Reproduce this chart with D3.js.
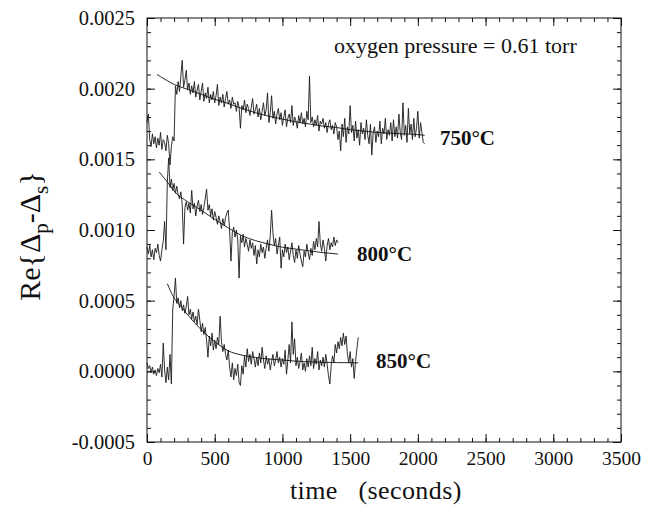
<!DOCTYPE html>
<html>
<head>
<meta charset="utf-8">
<script src="https://cdn.jsdelivr.net/npm/d3@7"></script>
<style>
body { margin: 0; background: #fff; }
text { font-family: 'Liberation Serif', 'Times New Roman', serif; fill: #111; }
</style>
</head>
<body>
<svg id="chart" width="656" height="514"></svg>
<script>
'use strict';

// values are in units of 1e-4, sampled every 10 s from t = 0
const unit = 1e-4;
const sample_step = 10;

const trace_750 = [
    17.6, 18.2, 16.4, 15.9, 16.8, 16.1, 16.6, 15.8, 16.5, 16.0,
    16.9, 15.7, 16.4, 16.2, 15.6, 16.7, 16.1, 14.6, 15.9, 16.6, 16.3,
    20.2, 19.6, 20.5, 19.8, 20.9, 22.0, 20.1, 20.6, 21.3, 19.9,
    20.4, 19.6, 20.2, 19.7, 20.5, 19.4, 19.9, 20.3, 19.2, 19.8,
    20.4, 19.1, 19.7, 19.3, 20.1, 19.0, 19.6, 19.2, 19.8, 19.0,
    19.5, 20.3, 18.8, 19.4, 19.0, 19.6, 18.7, 19.3, 19.8, 18.9,
    19.2, 18.6, 19.4, 18.9, 19.0, 18.4, 19.1, 18.7, 17.2, 18.8,
    18.5, 19.2, 18.3, 18.9, 18.6, 18.1, 18.7, 19.3, 18.2, 18.5,
    18.9, 18.0, 18.6, 17.8, 18.4, 19.0, 18.1, 18.5, 19.7, 17.6,
    18.3, 19.5, 17.9, 18.4, 17.5, 18.2, 18.6, 17.8, 18.3, 17.4,
    18.0, 18.5, 17.3, 17.9, 18.2, 17.6, 18.8, 17.4, 18.0, 17.7,
    17.2, 18.1, 17.6, 18.3, 17.5, 17.9, 17.3, 18.4, 17.8, 20.9,
    17.6, 18.0, 17.3, 17.8, 17.4, 18.1, 17.0, 17.7, 17.5, 17.9,
    17.2, 17.6, 16.9, 17.5, 17.8, 17.1, 17.4, 16.8, 17.6, 17.3,
    16.4, 17.0, 15.6, 17.5, 16.6, 17.9, 16.2, 17.3, 16.8, 18.8,
    16.9, 17.4, 16.3, 17.7, 16.5, 17.1, 16.0, 17.6, 16.8, 17.2,
    16.4, 17.8, 16.7, 16.1, 17.5, 15.3, 16.9, 17.3, 16.2, 17.0,
    16.6, 17.7, 16.1, 17.2, 16.8, 17.9, 16.4, 17.1, 16.7, 17.6,
    16.3, 17.8, 16.6, 17.3, 16.5, 18.2, 16.9, 16.4, 19.0, 16.7,
    17.4, 16.2, 18.6, 16.8, 17.5, 16.4, 17.9, 16.6, 17.2, 18.4,
    16.5, 17.6, 16.9, 16.2, 16.1
];

const trace_800 = [
    8.8, 8.3, 8.9, 8.1, 8.6, 7.9, 8.7, 8.4, 9.0, 8.2,
    7.8, 8.6, 9.2, 10.6, 8.6, 13.4, 15.1, 13.0, 13.6, 12.8,
    13.3, 12.6, 13.1, 12.5, 12.2, 12.7, 11.8, 9.0, 11.6, 12.0,
    11.4, 11.9, 11.2, 12.8, 11.5, 11.9, 11.0, 11.7, 12.1, 11.3,
    11.8, 11.1, 11.6, 12.2, 12.9, 11.4, 11.8, 11.0, 11.5, 10.7,
    11.3, 10.9, 10.4, 11.0, 10.6, 10.1, 10.8, 10.3, 10.9, 11.2,
    11.4, 10.0, 7.8, 9.8, 10.2, 9.5, 10.0, 9.3, 6.6, 9.6,
    9.1, 9.7, 8.8, 9.4, 9.0, 8.5, 9.3, 8.7, 9.1, 8.2,
    8.9, 7.6, 8.6, 8.1, 9.0, 8.4, 8.8, 8.0, 8.7, 9.3,
    8.5, 9.6, 11.4, 9.8, 8.9, 9.4, 8.3, 8.9, 9.5, 7.3,
    8.6, 8.1, 9.0, 8.4, 8.8, 7.9, 8.5, 9.1, 8.2, 7.7,
    8.6, 8.0, 8.9, 8.3, 7.8, 7.4, 8.5, 8.1, 9.0, 8.4,
    7.9, 8.7, 8.2, 9.2, 8.6, 9.4, 8.8, 10.6, 9.0, 8.5,
    9.3, 8.7, 7.8, 8.9, 9.4, 8.6, 9.1, 8.8, 9.5, 8.9,
    9.3, 9.1
];

const trace_850 = [
    0.6, 0.2, 0.4, -0.1, 0.3, -0.2, 0.1, -0.3, 0.2, -0.1,
    0.5, -0.4, 2.0, 0.1, -0.8, 0.3, -0.6, 1.2, -0.9, 4.4,
    5.3, 6.6, 4.8, 5.2, 4.5, 5.0, 4.3, 4.7, 4.1, 4.6,
    5.3, 4.0, 4.4, 3.7, 4.2, 3.5, 3.9, 3.3, 4.4, 3.6,
    2.8, 3.4, 2.6, 3.1, 2.2, 1.0, 2.5, 1.8, 2.7, 1.5,
    2.2, 1.6, 2.4, 1.9, 3.9, 2.1, 1.4, 1.9, 1.2, 0.8,
    1.5, 0.3, -0.4, 0.6, -0.6, 0.2, -0.3, 0.5, -0.8, -1.0,
    0.4, -0.2, 1.1, 0.3, 1.6, 0.7, 1.2, 0.5, 1.4, 0.9,
    0.3, 1.0, 0.4, 1.3, 0.6, 1.7, 0.8, 0.2, 1.1, 0.5,
    0.9, 0.1, 0.7, 1.2, 0.4, 0.8, 1.4, 0.6, 1.0, 0.3,
    0.9, 0.5, 1.5, -0.2, 0.8, 1.9, 0.6, 3.5, 1.2, 2.3,
    0.4, 1.0, 0.2, 0.7, 1.3, 0.1, 0.6, 0.0, 0.9, 0.3,
    1.1, 0.4, 1.7, 0.2, 0.9, 0.5, 1.4, 0.1, 0.8, 0.4,
    1.0, 0.3, 1.2, 0.5, -0.3, -0.9, 0.4, 1.1, 0.6, 1.9,
    1.3, 2.1, 1.6, 2.4, 1.8, 2.7, 1.9, 2.5, 1.2, 0.6,
    1.4, 0.3, 0.9, -0.5, 0.7, 1.6, 2.4
];

// fitted decay curves (time in s, value in units of 1e-4)
const fit_750_t = [74, 100, 200, 300, 400, 500, 600, 700, 800, 900, 1000, 1100, 1200, 1300, 1400, 1500, 1600, 1700, 1800, 1900, 2000, 2050];
const fit_750_v = [21.0, 20.85, 20.3, 19.95, 19.6, 19.25, 18.95, 18.6, 18.3, 18.05, 17.85, 17.65, 17.5, 17.35, 17.25, 17.1, 17.0, 16.9, 16.85, 16.8, 16.75, 16.7];
const fit_800_t = [90, 150, 200, 300, 400, 500, 600, 700, 800, 900, 1000, 1100, 1200, 1300, 1410];
const fit_800_v = [14.1, 13.4, 12.75, 12.0, 11.4, 10.75, 10.15, 9.6, 9.25, 9.0, 8.78, 8.65, 8.52, 8.4, 8.3];
const fit_850_t = [150, 200, 250, 300, 350, 400, 500, 600, 700, 800, 900, 1000, 1100, 1200, 1300, 1400, 1560];
const fit_850_v = [6.2, 5.2, 4.6, 4.0, 3.45, 2.95, 2.1, 1.45, 1.15, 0.98, 0.87, 0.8, 0.72, 0.67, 0.64, 0.62, 0.6];

const temperature_labels = ['750°C', '800°C', '850°C'];
const label_t = [2163, 1551, 1691];
const label_v = [0.001601, 0.000781, 0.0000236];

const x_ticks = [0, 500, 1000, 1500, 2000, 2500, 3000, 3500];
const x_minor = d3.range(0, 3501, 100);
const y_ticks = [-0.0005, 0, 0.0005, 0.0010, 0.0015, 0.0020, 0.0025];
const y_minor = d3.range(-5, 26, 1).map(d => d * unit);

const x_title = 'time   (seconds)';
const note = 'oxygen pressure = 0.61 torr';

const x = d3.scaleLinear().domain([0, 3500]).range([147, 621]);
const y = d3.scaleLinear().domain([-0.0005, 0.0025]).range([442, 18]);

const svg = d3.select('#chart');

function tick_axis(axis, at, values, size, fmt) {
    const g = svg.append('g')
        .attr('transform', at)
        .call(axis.tickValues(values).tickSizeInner(size).tickSizeOuter(0).tickFormat(fmt || ''));
    g.select('.domain').remove();
    g.selectAll('line').attr('stroke', '#111').attr('stroke-width', 1);
    return g;
}

const no_label = () => '';
tick_axis(d3.axisBottom(x), 'translate(0,442)', x_minor, -4, no_label);
tick_axis(d3.axisTop(x), 'translate(0,18)', x_minor, -4, no_label);
tick_axis(d3.axisTop(x), 'translate(0,18)', x_ticks, -8, no_label);
tick_axis(d3.axisLeft(y), 'translate(147,0)', y_minor, -4, no_label);
tick_axis(d3.axisRight(y), 'translate(621,0)', y_minor, -4, no_label);
tick_axis(d3.axisRight(y), 'translate(621,0)', y_ticks, -8, no_label);

const x_axis = tick_axis(d3.axisBottom(x).tickPadding(9), 'translate(0,442)', x_ticks, -8, d3.format('d'));
x_axis.selectAll('text')
    .style('font-size', '19.5px');

const y_axis = tick_axis(d3.axisLeft(y).tickPadding(12), 'translate(147,0)', y_ticks, -8, d => d.toFixed(4));
y_axis.selectAll('text')
    .style('font-size', '20.5px');
svg.selectAll('g').attr('font-family', null).attr('font-size', null);

svg.append('rect')
    .attr('x', x(0)).attr('y', y(0.0025))
    .attr('width', x(3500) - x(0)).attr('height', y(-0.0005) - y(0.0025))
    .attr('fill', 'none').attr('stroke', '#111').attr('stroke-width', 1);

const trace_line = d3.line()
    .x((d, i) => x(i * sample_step))
    .y(d => y(d * unit));

[trace_750, trace_800, trace_850].forEach(trace => {
    svg.append('path')
        .datum(trace)
        .attr('d', trace_line)
        .attr('fill', 'none')
        .attr('stroke', '#1a1a1a')
        .attr('stroke-width', 0.9)
        .attr('stroke-linejoin', 'round');
});

const fit_line = d3.line()
    .x(d => x(d[0]))
    .y(d => y(d[1] * unit))
    .curve(d3.curveMonotoneX);

[[fit_750_t, fit_750_v], [fit_800_t, fit_800_v], [fit_850_t, fit_850_v]].forEach(([ts, vs]) => {
    svg.append('path')
        .datum(d3.zip(ts, vs))
        .attr('d', fit_line)
        .attr('fill', 'none')
        .attr('stroke', '#111')
        .attr('stroke-width', 0.9);
});

temperature_labels.forEach((label, i) => {
    svg.append('text')
        .attr('x', x(label_t[i]))
        .attr('y', y(label_v[i]))
        .style('font-size', '21px')
        .style('font-weight', 'bold')
        .text(label);
});

svg.append('text')
    .attr('x', x(1381))
    .attr('y', y(0.002252))
    .style('font-size', '22px')
    .text(note);

svg.append('text')
    .attr('x', 290)
    .attr('y', 499)
    .style('font-size', '26px')
    .style('letter-spacing', '0.4px')
    .style('white-space', 'pre')
    .text(x_title);

const y_title = svg.append('text')
    .attr('transform', 'translate(40,236) rotate(-90)')
    .attr('text-anchor', 'middle')
    .style('font-size', '30px');
y_title.append('tspan').text('Re{Δ');
y_title.append('tspan').attr('dy', 8).style('font-size', '21px').text('p');
y_title.append('tspan').attr('dy', -8).text('-Δ');
y_title.append('tspan').attr('dy', 8).style('font-size', '21px').text('s');
y_title.append('tspan').attr('dy', -8).text('}');
</script>
</body>
</html>
